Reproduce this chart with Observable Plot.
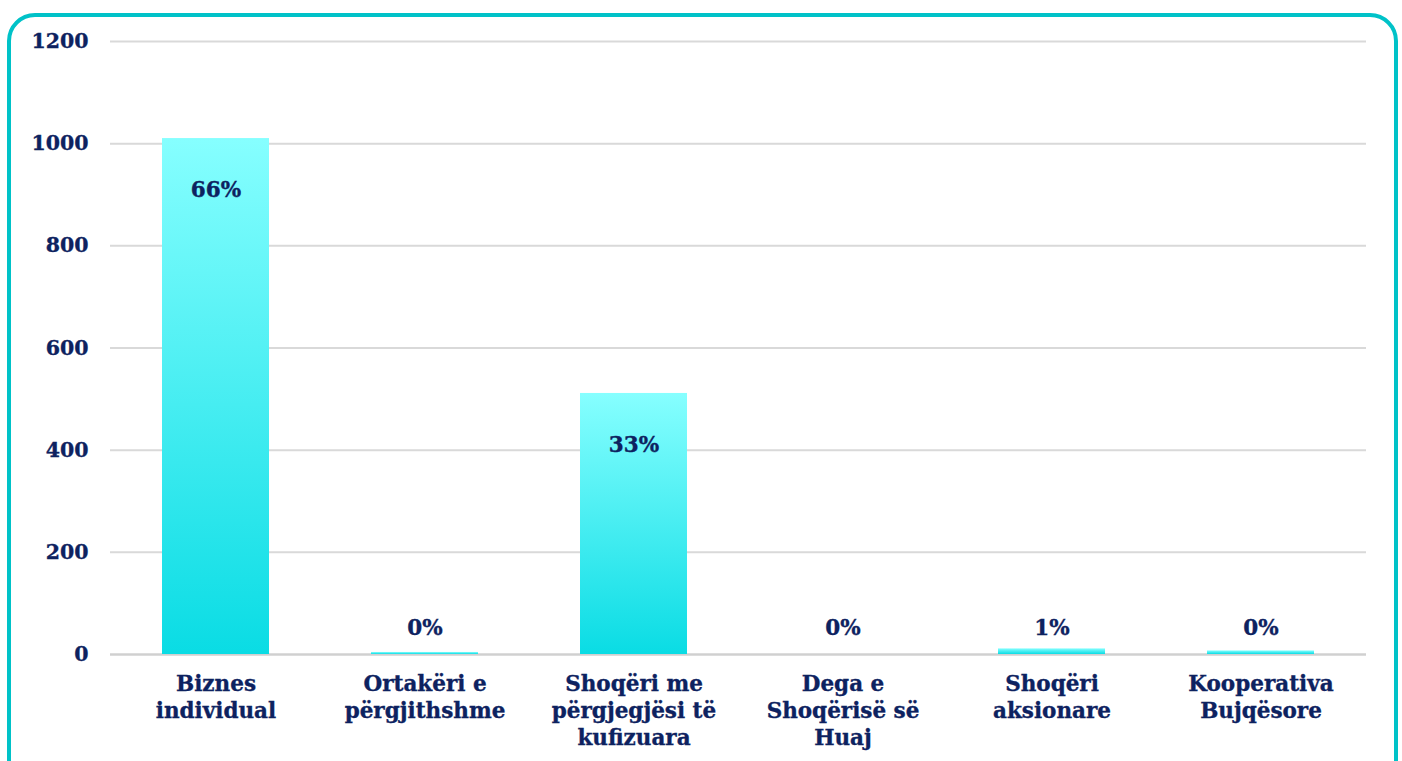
<!DOCTYPE html>
<html>
<head>
<meta charset="utf-8">
<script src="https://cdn.jsdelivr.net/npm/d3@7"></script>
<script src="https://cdn.jsdelivr.net/npm/@observablehq/plot@0.6"></script>
<style>
  html, body { margin: 0; padding: 0; background: #fff; width: 1402px; height: 761px; overflow: hidden; }
  #frame { position: absolute; left: 7px; top: 13px; width: 1383px; height: 800px; border: 4px solid #00C2C8; border-radius: 28px; }
  #chart { position: absolute; left: 0; top: 0; }
  svg { font-family: "DejaVu Serif", "Liberation Serif", serif; }
  svg text { stroke: #0D2260; stroke-width: 0.35px; }
</style>
</head>
<body>
<div id="frame"></div>
<div id="chart"></div>
<script>
const categories = [
  "Biznes\nindividual",
  "Ortakëri e\npërgjithshme",
  "Shoqëri me\npërgjegjësi të\nkufizuara",
  "Dega e\nShoqërisë së\nHuaj",
  "Shoqëri\naksionare",
  "Kooperativa\nBujqësore"
];
const values = [1010, 4, 511, 0, 11, 7];
const percentLabels = ["66%", "0%", "33%", "0%", "1%", "0%"];
const yTicks = [0, 200, 400, 600, 800, 1000, 1200];

const data = categories.map((c, i) => ({category: c, value: values[i], label: percentLabels[i]}));
const navy = "#0D2260";

const chart = Plot.plot({
  width: 1402,
  height: 761,
  marginLeft: 110,
  marginRight: 36,
  marginTop: 41,
  marginBottom: 107,
  style: {fontFamily: "'DejaVu Serif', 'Liberation Serif', serif", background: "transparent"},
  x: {domain: categories, paddingInner: 0.49, paddingOuter: 0.245, label: null},
  y: {domain: [0, 1200], label: null},
  marks: [
    Plot.ruleY(yTicks.filter(d => d > 0), {stroke: "#d9d9d9", strokeWidth: 2}),
    Plot.ruleY([0], {stroke: "#d0d0d0", strokeWidth: 2.5}),
    Plot.barY(data, {x: "category", y: "value", fill: "url(#barGrad)", style: {filter: "drop-shadow(3px 1px 2px rgba(0,0,0,0.28))"}}),
    Plot.text(data.filter(d => d.value > 100), {x: "category", y: "value", text: "label", dy: 52, fill: navy, fontSize: 21.5, fontWeight: "bold"}),
    Plot.text(data.filter(d => d.value <= 100), {x: "category", y: 0, text: "label", dy: -26, fill: navy, fontSize: 21.5, fontWeight: "bold"}),
    Plot.axisY({ticks: yTicks, tickFormat: d => String(d), tickSize: 0, tickPadding: 22, fill: navy, fontSize: 20.5, fontWeight: "bold", label: null}),
    Plot.axisX({tickSize: 0, tickPadding: 17, fill: navy, fontSize: 21.5, fontWeight: "bold", lineHeight: 1.26, label: null})
  ]
});

const ns = "http://www.w3.org/2000/svg";
const defs = document.createElementNS(ns, "defs");
defs.innerHTML = `<linearGradient id="barGrad" x1="0" y1="0" x2="0" y2="1">
  <stop offset="0" stop-color="#86FFFF"/>
  <stop offset="1" stop-color="#0ADCE4"/>
</linearGradient>`;
chart.insertBefore(defs, chart.firstChild);
document.getElementById("chart").appendChild(chart);
</script>
</body>
</html>
